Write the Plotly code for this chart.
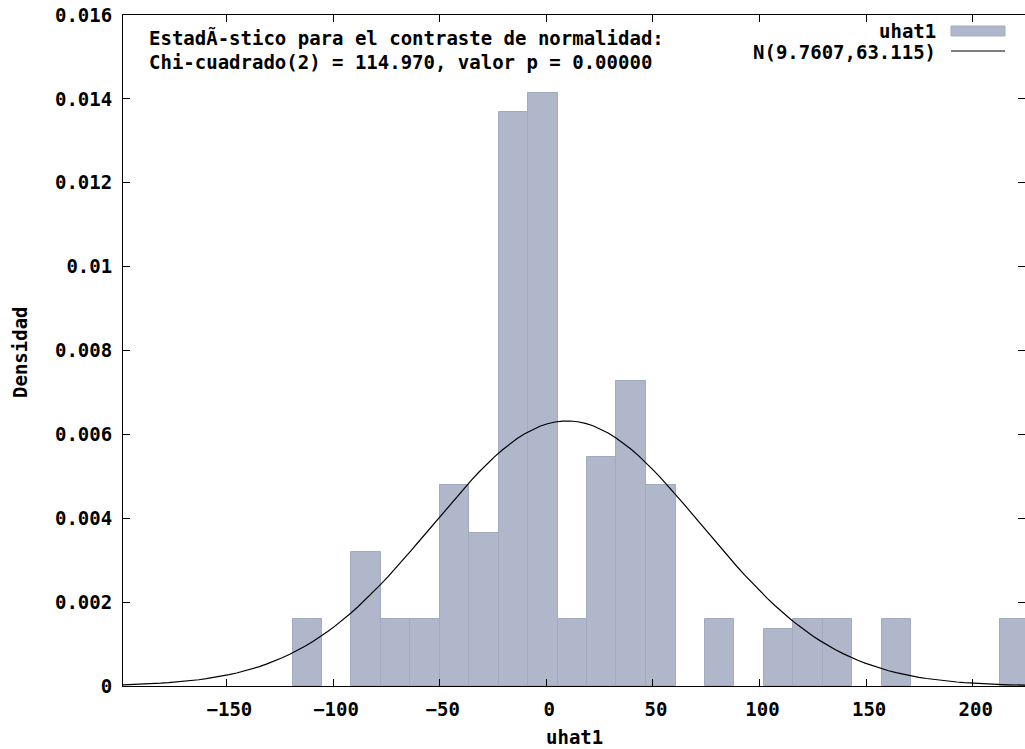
import numpy as np
import plotly.graph_objects as go

# Histogram of the residuals uhat1 (bin midpoints and densities)
bin_centers = [-112.1, -84.5, -70.7, -56.9, -43.0, -29.2, -15.4, -1.6, 12.2,
               26.0, 39.8, 53.7, 81.3, 109.0, 122.8, 136.6, 164.2, 219.5]
densities = [0.00160, 0.00319, 0.00160, 0.00160, 0.00480, 0.00364, 0.01368,
             0.01413, 0.00160, 0.00547, 0.00727, 0.00480, 0.00160, 0.00136,
             0.00160, 0.00160, 0.00160, 0.00160]
bin_width = 13.82

# Fitted normal distribution
norm_mean = 9.7607
norm_sd = 63.115

x_range = [-198.5, 224.5]
x_ticks = [-150, -100, -50, 0, 50, 100, 150, 200]
y_ticks = [0, 0.002, 0.004, 0.006, 0.008, 0.01, 0.012, 0.014, 0.016]
y_tick_text = ["0", "0.002", "0.004", "0.006", "0.008", "0.01", "0.012", "0.014", "0.016"]

W, H = 1025, 749
ML, MR, MT, MB = 123, 0, 15, 63
PW, PH = W - ML - MR, H - MT - MB

BAR_FILL = "#b0b7ca"
BAR_EDGE = "#a2abbe"
FONT = dict(family="DejaVu Sans Mono", size=19, color="black", weight="bold")


def px(xp):
    return (xp - ML) / PW


def py(yp):
    return (H - MB - yp) / PH


xs = np.linspace(x_range[0], x_range[1], 120)
pdf = np.exp(-0.5 * ((xs - norm_mean) / norm_sd) ** 2) / (norm_sd * np.sqrt(2 * np.pi))

fig = go.Figure()
fig.add_trace(go.Bar(
    x=bin_centers, y=densities, width=bin_width,
    marker=dict(color=BAR_FILL, line=dict(color=BAR_EDGE, width=1)),
    name="uhat1", showlegend=False,
))
fig.add_trace(go.Scatter(
    x=xs, y=pdf, mode="lines", line=dict(color="black", width=1.2),
    name=f"N({norm_mean},{norm_sd})", showlegend=False,
))

axis_common = dict(
    showline=True, linecolor="black", linewidth=1, mirror="ticks",
    ticks="inside", ticklen=7, tickcolor="black", tickwidth=1,
    showgrid=False, zeroline=False, tickfont=FONT,
)
fig.update_xaxes(range=x_range, tickvals=x_ticks, ticklabelstandoff=6,
                 ticklabelshift=3, **axis_common)
fig.update_yaxes(range=[0, 0.016], tickvals=y_ticks, ticktext=y_tick_text,
                 ticklabelstandoff=6, **axis_common)

annotations = [
    dict(x=px(147), y=py(37), text="EstadÃ-stico para el contraste de normalidad:",
         xanchor="left"),
    dict(x=px(147), y=py(62), text="Chi-cuadrado(2) = 114.970, valor p = 0.00000",
         xanchor="left"),
    dict(x=px(938), y=py(31), text="uhat1", xanchor="right"),
    dict(x=px(938), y=py(52), text=f"N({norm_mean},{norm_sd})", xanchor="right"),
    dict(x=px(574), y=py(737), text="uhat1", xanchor="center"),
    dict(x=px(20), y=py(352), text="Densidad", xanchor="center", textangle=-90),
]
for a in annotations:
    fig.add_annotation(xref="paper", yref="paper", yanchor="middle",
                       showarrow=False, font=FONT, **a)

# Legend keys
fig.add_shape(type="rect", xref="paper", yref="paper",
              x0=px(951), x1=px(1005), y0=py(36), y1=py(26),
              fillcolor=BAR_FILL, line=dict(color=BAR_EDGE, width=1))
fig.add_shape(type="line", xref="paper", yref="paper",
              x0=px(951), x1=px(1005), y0=py(51), y1=py(51),
              line=dict(color="black", width=1.2))

fig.update_layout(
    width=W, height=H, margin=dict(l=ML, r=MR, t=MT, b=MB, pad=0),
    paper_bgcolor="white", plot_bgcolor="white", bargap=0,
    font=FONT,
)
fig.write_html("out.html")
